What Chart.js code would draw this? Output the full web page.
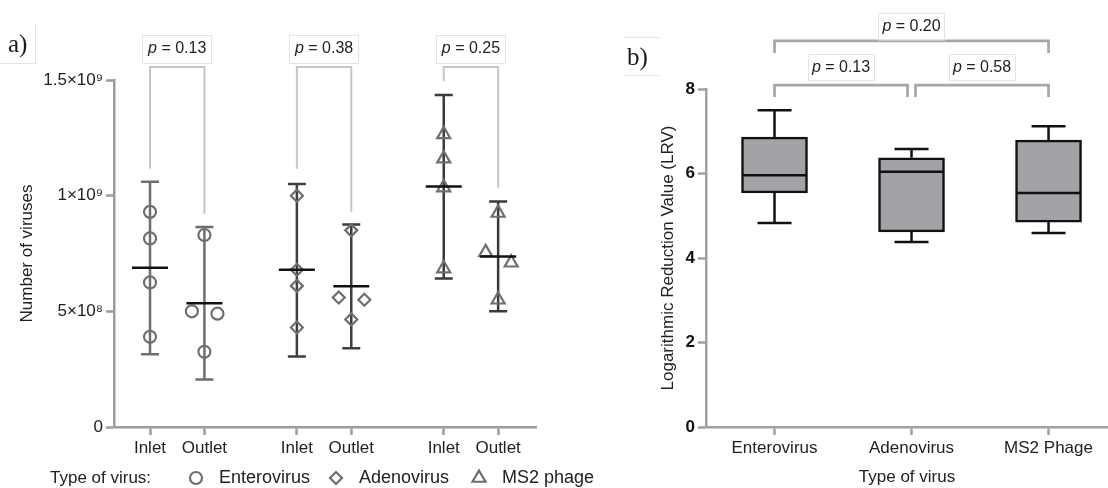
<!DOCTYPE html>
<html lang="en">
<head>
  <meta charset="UTF-8" />
  <title>Virus removal — inlet/outlet and LRV</title>
  <script src="https://cdn.jsdelivr.net/npm/chart.js"></script>
  <style>
    html, body { margin: 0; padding: 0; background: #fff; overflow: hidden; }
    body { width: 1108px; height: 488px; position: relative; }
    canvas { position: absolute; top: 0; }
    #chartA { left: 0; }
    #chartB { left: 620px; }
    .panel {
      position: absolute;
      font-family: "Liberation Serif", "Times New Roman", serif;
      font-size: 25px;
      color: #1a1a1a;
      box-sizing: border-box;
    }
    #panelA { left: 0; top: 23px; width: 36px; height: 41px; padding-left: 8px; line-height: 42px;
      border-right: 1px solid #e4e4e4; border-bottom: 1px solid #e4e4e4; }
    #panelB { left: 623px; top: 37px; width: 36px; height: 39px; padding-left: 4px; line-height: 38px;
      border-top: 1px solid #e4e4e4; border-bottom: 1px solid #e4e4e4; }
  </style>
</head>
<body>
  <canvas id="chartA" width="620" height="488"></canvas>
  <canvas id="chartB" width="488" height="488"></canvas>
  <div class="panel" id="panelA">a)</div>
  <div class="panel" id="panelB">b)</div>

  <script>
    // ---- panel a: virus counts at inlet / outlet ----
    const groupLabels = ['Inlet', 'Outlet', 'Inlet', 'Outlet', 'Inlet', 'Outlet'];
    const groupX = [0, 1, 2.7, 3.7, 5.4, 6.4];
    const virusNames = ['Enterovirus', 'Adenovirus', 'MS2 phage'];

    // four samples per group
    const enteroInlet = [9.3e8, 8.15e8, 6.25e8, 3.9e8];
    const enteroOutlet = [8.3e8, 5.0e8, 4.9e8, 3.25e8];
    const adenoInlet = [1.0e9, 6.8e8, 6.1e8, 4.3e8];
    const adenoOutlet = [8.5e8, 5.6e8, 5.5e8, 4.65e8];
    const ms2Inlet = [1.265e9, 1.16e9, 1.035e9, 6.85e8];
    const ms2Outlet = [9.25e8, 7.55e8, 7.1e8, 5.5e8];
    const outletJitter = [0, -0.23, 0.24, 0];

    // mean and error bar ends per group
    const groupMean = [6.88e8, 5.35e8, 6.8e8, 6.08e8, 1.04e9, 7.37e8];
    const errHigh = [1.06e9, 8.65e8, 1.05e9, 8.75e8, 1.435e9, 9.75e8];
    const errLow = [3.15e8, 2.05e8, 3.05e8, 3.4e8, 6.42e8, 5.0e8];

    const yTickValues = [0, 5e8, 1e9, 1.5e9];
    const yTickText = ['0', '5×10⁸', '1×10⁹', '1.5×10⁹'];

    const pInletOutlet = ['0.13', '0.38', '0.25'];

    // ---- panel b: log reduction values ----
    const boxCats = ['Enterovirus', 'Adenovirus', 'MS2 Phage'];
    const lrvMax = [7.5, 6.58, 7.12];
    const lrvQ3 = [6.86, 6.37, 6.79];
    const lrvMed = [5.96, 6.04, 5.54];
    const lrvQ1 = [5.54, 4.62, 4.85];
    const lrvMin = [4.83, 4.38, 4.59];
    const pPairs = [[0, 2, '0.20'], [0, 1, '0.13'], [1, 2, '0.58']];

    const SANS = '"Liberation Sans", Arial, sans-serif';
    const TXT = '#222';

    function drawPLabel(ctx, cx, cy, w, h, p) {
      ctx.fillStyle = '#fff';
      ctx.fillRect(cx - w / 2, cy - h / 2, w, h);
      ctx.strokeStyle = '#e3e3e3';
      ctx.lineWidth = 1;
      ctx.strokeRect(Math.round(cx - w / 2) + 0.5, Math.round(cy - h / 2) + 0.5, w - 1, h - 1);
      const italic = 'italic 16px ' + SANS, normal = '16px ' + SANS;
      const rest = ' = ' + p;
      ctx.font = italic;
      const wa = ctx.measureText('p').width;
      ctx.font = normal;
      const wb = ctx.measureText(rest).width;
      const sx = cx - (wa + wb) / 2;
      ctx.fillStyle = TXT;
      ctx.textAlign = 'left';
      ctx.textBaseline = 'middle';
      ctx.font = italic;
      ctx.fillText('p', sx, cy);
      ctx.font = normal;
      ctx.fillText(rest, sx + wa, cy);
    }

    const markerStyles = ['circle', 'rectRot', 'triangle'];
    const markerRadius = [6, 6, 7.5];
    const markerColor = '#6e6e6e';
    const barColors = ['#6e6e6e', '#3e3e3e', '#3a3a3a'];

    const inlets = [enteroInlet, adenoInlet, ms2Inlet];
    const outlets = [enteroOutlet, adenoOutlet, ms2Outlet];

    const virusDatasets = virusNames.map((name, v) => ({
      label: name,
      data: inlets[v].map(val => ({ x: groupX[2 * v], y: val }))
        .concat(outlets[v].map((val, i) => ({ x: groupX[2 * v + 1] + outletJitter[i], y: val }))),
      pointStyle: markerStyles[v],
      pointRadius: markerRadius[v],
      pointHoverRadius: markerRadius[v],
      pointBorderWidth: 2.2,
      borderColor: markerColor,
      backgroundColor: 'rgba(0,0,0,0)',
      showLine: false,
      order: 2
    }));

    const meanDataset = {
      label: 'mean',
      data: groupX.map((gx, i) => ({ x: gx, y: groupMean[i] })),
      pointStyle: 'line',
      pointRadius: 18,
      pointHoverRadius: 18,
      pointBorderWidth: 2.5,
      borderColor: '#111',
      showLine: false,
      order: 1
    };

    const errorBars = {
      id: 'errorBars',
      beforeDatasetsDraw(chart) {
        const { ctx, scales: { x, y } } = chart;
        ctx.save();
        ctx.lineWidth = 2.5;
        groupX.forEach((gx, i) => {
          const px = x.getPixelForValue(gx);
          const top = y.getPixelForValue(errHigh[i]);
          const bot = y.getPixelForValue(errLow[i]);
          ctx.strokeStyle = barColors[Math.floor(i / 2)];
          ctx.beginPath();
          ctx.moveTo(px, top); ctx.lineTo(px, bot);
          ctx.moveTo(px - 9, top); ctx.lineTo(px + 9, top);
          ctx.moveTo(px - 9, bot); ctx.lineTo(px + 9, bot);
          ctx.stroke();
        });
        ctx.restore();
      }
    };

    // bracket heights in y units: [top, left leg end, right leg end]
    const bracketsA = [[1.556e9, 1.116e9, 0.922e9], [1.556e9, 1.116e9, 0.931e9], [1.556e9, 1.496e9, 1.034e9]];

    const bracketsAndLegendA = {
      id: 'bracketsA',
      afterDraw(chart) {
        const { ctx, scales: { x, y } } = chart;
        ctx.save();
        ctx.strokeStyle = '#c6c6c6';
        ctx.lineWidth = 2;
        bracketsA.forEach((b, v) => {
          const x1 = x.getPixelForValue(groupX[2 * v]);
          const x2 = x.getPixelForValue(groupX[2 * v + 1]);
          const yt = y.getPixelForValue(b[0]);
          ctx.beginPath();
          ctx.moveTo(x1, y.getPixelForValue(b[1]));
          ctx.lineTo(x1, yt);
          ctx.lineTo(x2, yt);
          ctx.lineTo(x2, y.getPixelForValue(b[2]));
          ctx.stroke();
          drawPLabel(ctx, (x1 + x2) / 2, y.getPixelForValue(1.634e9), 70, 29, pInletOutlet[v]);
          ctx.strokeStyle = '#c6c6c6';
          ctx.lineWidth = 2;
        });

        // legend row
        const ly = 478;
        ctx.font = '17px ' + SANS;
        ctx.fillStyle = TXT;
        ctx.textAlign = 'left';
        ctx.textBaseline = 'middle';
        ctx.fillText('Type of virus:', 50, ly);
        const spots = [196, 336, 479];
        virusDatasets.forEach((ds, i) => {
          ctx.strokeStyle = ds.borderColor;
          ctx.fillStyle = 'rgba(0,0,0,0)';
          ctx.lineWidth = 2.2;
          Chart.helpers.drawPoint(ctx, { pointStyle: ds.pointStyle, radius: ds.pointRadius, borderWidth: 2.2, rotation: 0 }, spots[i], ly);
          ctx.fillStyle = TXT;
          ctx.font = '18px ' + SANS;
          ctx.fillText(ds.label, spots[i] + 23, ly);
        });
        ctx.restore();
      }
    };

    new Chart(document.getElementById('chartA'), {
      type: 'scatter',
      data: { datasets: [meanDataset, ...virusDatasets] },
      options: {
        responsive: false,
        animation: false,
        events: [],
        layout: { padding: { top: 80, left: 0, right: 84, bottom: 0 } },
        plugins: { legend: { display: false }, tooltip: { enabled: false } },
        scales: {
          x: {
            type: 'linear',
            min: -0.662,
            max: 7.096,
            afterFit: s => { s.height = 61; },
            afterBuildTicks: axis => { axis.ticks = groupX.map(v => ({ value: v })); },
            ticks: {
              autoSkip: false,
              maxRotation: 0,
              padding: 3,
              color: TXT,
              font: { family: SANS, size: 17 },
              callback: (val, i) => groupLabels[i]
            },
            grid: { offset: false, drawOnChartArea: false, drawTicks: true, tickLength: 8, tickColor: '#9c9c9c', tickWidth: 2.5 },
            border: { color: '#9c9c9c', width: 2.5 }
          },
          y: {
            min: 0,
            max: 1.5e9,
            afterFit: s => { s.width = 114; },
            afterBuildTicks: axis => { axis.ticks = yTickValues.map(v => ({ value: v })); },
            ticks: {
              padding: 3,
              color: TXT,
              font: { family: SANS, size: 17 },
              callback: (val, i) => yTickText[i]
            },
            grid: { drawOnChartArea: false, drawTicks: true, tickLength: 8, tickColor: '#9c9c9c', tickWidth: 2.5 },
            border: { color: '#9c9c9c', width: 2.5 },
            title: {
              display: true,
              text: 'Number of viruses',
              color: TXT,
              font: { family: SANS, size: 17 },
              padding: { top: 17, bottom: 0 }
            }
          }
        }
      },
      plugins: [errorBars, bracketsAndLegendA]
    });

    // ---- panel b ----
    const whiskers = {
      id: 'whiskers',
      afterDatasetsDraw(chart) {
        const { ctx, scales: { x, y } } = chart;
        ctx.save();
        ctx.strokeStyle = '#111';
        ctx.lineWidth = 2.5;
        boxCats.forEach((c, i) => {
          const px = x.getPixelForValue(i);
          ctx.beginPath();
          // median
          ctx.moveTo(px - 32, y.getPixelForValue(lrvMed[i]));
          ctx.lineTo(px + 32, y.getPixelForValue(lrvMed[i]));
          // upper whisker
          ctx.moveTo(px, y.getPixelForValue(lrvQ3[i]));
          ctx.lineTo(px, y.getPixelForValue(lrvMax[i]));
          ctx.moveTo(px - 17, y.getPixelForValue(lrvMax[i]));
          ctx.lineTo(px + 17, y.getPixelForValue(lrvMax[i]));
          // lower whisker
          ctx.moveTo(px, y.getPixelForValue(lrvQ1[i]));
          ctx.lineTo(px, y.getPixelForValue(lrvMin[i]));
          ctx.moveTo(px - 17, y.getPixelForValue(lrvMin[i]));
          ctx.lineTo(px + 17, y.getPixelForValue(lrvMin[i]));
          ctx.stroke();
        });
        ctx.restore();
      }
    };

    // bracket levels in LRV units: [top, leg end, label centre]
    const bracketLevelsB = [[9.14, 8.85, 9.47], [8.09, 7.81, 8.5], [8.09, 7.81, 8.5]];

    const bracketsB = {
      id: 'bracketsB',
      afterDraw(chart) {
        const { ctx, scales: { x, y } } = chart;
        ctx.save();
        pPairs.forEach((pair, k) => {
          const lv = bracketLevelsB[k];
          let x1 = x.getPixelForValue(pair[0]);
          let x2 = x.getPixelForValue(pair[1]);
          if (k === 1) x2 -= 4;
          if (k === 2) x1 += 4;
          const yt = y.getPixelForValue(lv[0]);
          const yl = y.getPixelForValue(lv[1]);
          ctx.strokeStyle = '#a6a6a6';
          ctx.lineWidth = 2.7;
          ctx.beginPath();
          ctx.moveTo(x1, yl); ctx.lineTo(x1, yt); ctx.lineTo(x2, yt); ctx.lineTo(x2, yl);
          ctx.stroke();
          drawPLabel(ctx, (x1 + x2) / 2, y.getPixelForValue(lv[2]), 67, 27, pair[2]);
        });
        ctx.restore();
      }
    };

    new Chart(document.getElementById('chartB'), {
      type: 'bar',
      data: {
        datasets: [{
          label: 'LRV',
          data: boxCats.map((c, i) => ({ x: i, y: [lrvQ1[i], lrvQ3[i]] })),
          backgroundColor: '#a3a3a7',
          borderColor: '#111',
          borderWidth: 2.5,
          borderSkipped: false,
          barThickness: 66
        }]
      },
      options: {
        responsive: false,
        animation: false,
        events: [],
        layout: { padding: { top: 89, left: 0, right: 0, bottom: 0 } },
        plugins: { legend: { display: false }, tooltip: { enabled: false } },
        scales: {
          x: {
            type: 'linear',
            offset: false,
            min: -0.5,
            max: 2.434,
            afterFit: s => { s.height = 61; },
            afterBuildTicks: axis => { axis.ticks = boxCats.map((c, i) => ({ value: i })); },
            ticks: {
              autoSkip: false,
              maxRotation: 0,
              padding: 3,
              color: TXT,
              font: { family: SANS, size: 17 },
              callback: (val, i) => boxCats[i]
            },
            grid: { offset: false, drawOnChartArea: false, drawTicks: true, tickLength: 8, tickColor: '#a0a0a0', tickWidth: 2.5 },
            border: { color: '#a0a0a0', width: 2.5 },
            title: {
              display: true,
              text: 'Type of virus',
              color: TXT,
              font: { family: SANS, size: 17 },
              padding: { top: 0, bottom: 0 }
            }
          },
          y: {
            min: 0,
            max: 8,
            afterFit: s => { s.width = 86; },
            ticks: {
              stepSize: 2,
              padding: 3,
              color: '#111',
              font: { family: SANS, size: 17, weight: 'bold' }
            },
            grid: { drawOnChartArea: false, drawTicks: true, tickLength: 8, tickColor: '#a0a0a0', tickWidth: 2.5 },
            border: { color: '#a0a0a0', width: 2.5 },
            title: {
              display: true,
              text: 'Logarithmic Reduction Value (LRV)',
              color: TXT,
              font: { family: SANS, size: 17 },
              padding: { top: 38, bottom: 0 }
            }
          }
        }
      },
      plugins: [whiskers, bracketsB]
    });
  </script>
</body>
</html>
